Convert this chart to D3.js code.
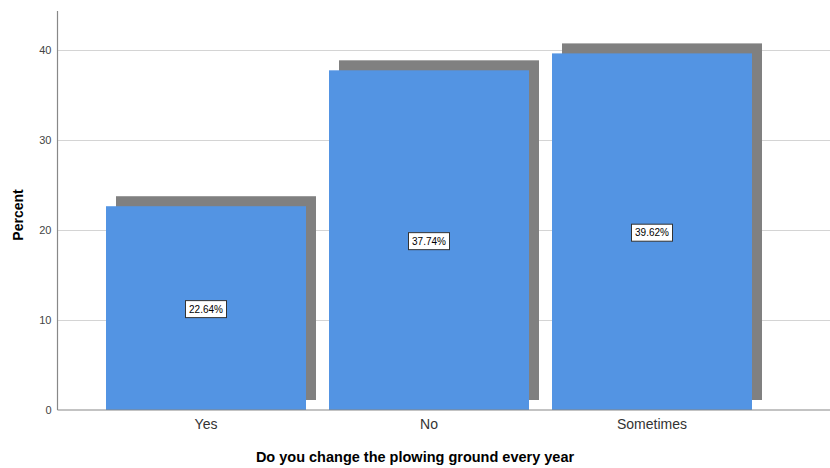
<!DOCTYPE html>
<html><head><meta charset="utf-8">
<script src="https://cdn.jsdelivr.net/npm/d3@7"></script>
<style>body{margin:0;background:#fff}svg{display:block;font-family:"Liberation Sans",Arial,sans-serif}</style>
</head><body><svg id="c" width="830" height="468"></svg>
<script>
const categories = ["Yes", "No", "Sometimes"];
const percents = [22.64, 37.74, 39.62];
const yTicks = [0, 10, 20, 30, 40];
const yTitle = "Percent";
const xTitle = "Do you change the plowing ground every year";

const svg = d3.select("#c");
const x = d3.scaleBand().domain(categories).range([94.5, 763.5]).paddingInner(23/223).paddingOuter(23/446);
const y = d3.scaleLinear().domain([0, 44.33]).range([410, 11]);
const left = 57.5, right = 830;

// gridlines
svg.append("g").selectAll("line").data(yTicks.filter(d => d > 0)).join("line")
  .attr("x1", left).attr("x2", right).attr("y1", d => Math.round(y(d)) + 0.5).attr("y2", d => Math.round(y(d)) + 0.5)
  .attr("stroke", "#d4d4d4").attr("stroke-width", 1.2);

// shadows
const off = 10;
svg.append("g").selectAll("rect").data(percents).join("rect")
  .attr("x", (d, i) => x(categories[i]) + off).attr("y", d => y(d) - off)
  .attr("width", x.bandwidth()).attr("height", d => y(0) - y(d))
  .attr("fill", "#808080");

// bars
svg.append("g").selectAll("rect").data(percents).join("rect")
  .attr("x", (d, i) => x(categories[i])).attr("y", d => y(d))
  .attr("width", x.bandwidth()).attr("height", d => y(0) - y(d))
  .attr("fill", "#5394e3");

// y axis
const yAxis = d3.axisLeft(y).tickValues(yTicks).tickSize(0).tickPadding(6);
const ga = svg.append("g").attr("transform", `translate(${left},0)`).call(yAxis);
ga.select(".domain").remove();
ga.selectAll("text").attr("font-size", 11).attr("fill", "#444").attr("font-family", "Liberation Sans, Arial, sans-serif");
svg.append("line").attr("x1", left).attr("x2", left).attr("y1", y(44.33)).attr("y2", y(0)).attr("stroke", "#888").attr("stroke-width", 1.2);
svg.append("line").attr("x1", left).attr("x2", right).attr("y1", y(0)).attr("y2", y(0)).attr("stroke", "#888").attr("stroke-width", 1.2);

// x axis
const xAxis = d3.axisBottom(x).tickSize(0).tickPadding(9);
const gx = svg.append("g").attr("transform", `translate(0,${y(0)})`).call(xAxis);
gx.select(".domain").remove();
gx.selectAll("text").attr("font-size", 14).attr("fill", "#333").attr("font-family", "Liberation Sans, Arial, sans-serif");

// labels
const lab = svg.append("g").selectAll("g").data(percents).join("g")
  .attr("transform", (d, i) => `translate(${x(categories[i]) + x.bandwidth()/2},${(y(d) + y(0))/2 + 1})`);
lab.append("rect").attr("x", -20.5).attr("y", -8.5).attr("width", 41).attr("height", 17)
  .attr("fill", "#fff").attr("stroke", "#333").attr("stroke-width", 1);
lab.append("text").attr("text-anchor", "middle").attr("dy", "0.35em").attr("font-size", 10).attr("fill", "#000")
  .text(d => d.toFixed(2) + "%");

// titles
svg.append("text").attr("transform", `translate(18,215) rotate(-90)`).attr("text-anchor", "middle")
  .attr("dy", "0.35em").attr("font-size", 14).attr("font-weight", "bold").text(yTitle);
svg.append("text").attr("x", 415).attr("y", 462).attr("text-anchor", "middle")
  .attr("font-size", 14.5).attr("font-weight", "bold").text(xTitle);
</script></body></html>
